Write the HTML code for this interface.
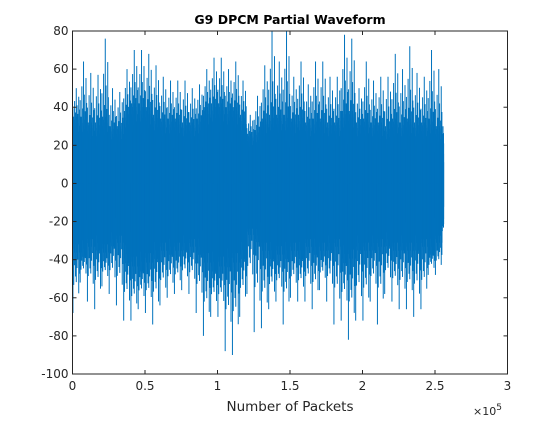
<!DOCTYPE html>
<html><head><meta charset="utf-8"><style>
body{margin:0;background:#fff}
svg text{font-family:"DejaVu Sans","Liberation Sans",sans-serif}
</style></head><body>
<svg id="chart" width="560" height="420" viewBox="0 0 560 420" xmlns="http://www.w3.org/2000/svg">
<rect width="560" height="420" fill="#fff"/>
<text x="290" y="24" text-anchor="middle" font-size="12.5" font-weight="bold" fill="#000">G9 DPCM Partial Waveform</text>
<g id="marks"></g>
<g id="axes"></g>
<text x="290" y="411" text-anchor="middle" font-size="13.5" fill="#262626">Number of Packets</text>
<text x="473" y="415" font-size="11" fill="#262626">×10<tspan dy="-5" font-size="9">5</tspan></text>
</svg>
<script>
const xTicks=[0,0.5,1,1.5,2,2.5,3];
const xTickLabels=["0","0.5","1","1.5","2","2.5","3"];
const yTicks=[80,60,40,20,0,-20,-40,-60,-80,-100];
const yTickLabels=["80","60","40","20","0","-20","-40","-60","-80","-100"];
const binWidth=0.05;
const dataEnd=2.56;
const peakMax=[50,64,58,57,76,50,48,60,70,70,68,62,56,54,54,54,50,52,60,66,66,60,64,54,36,46,62,80,64,80,56,64,52,64,64,56,56,78,76,50,64,54,56,56,68,60,72,58,56,70,60,30];
const peakMin=[-68,-52,-62,-66,-54,-58,-64,-72,-72,-66,-68,-74,-64,-60,-58,-56,-58,-68,-80,-70,-70,-88,-90,-70,-58,-78,-76,-66,-62,-74,-60,-62,-62,-66,-56,-62,-74,-72,-82,-72,-72,-62,-74,-58,-62,-66,-66,-70,-66,-48,-48,-25];
const coreAmp=[35,35,32,32,35,30,30,38,42,42,40,36,34,34,34,32,32,34,40,42,42,40,40,36,26,28,34,36,36,36,34,36,32,34,34,32,32,38,38,32,34,32,32,30,34,32,34,32,32,34,30,18];

const L=72.5,R=507.5,T=31,B=374;
const xs=v=>L+v/3*(R-L);
const ys=v=>T+(80-v)/180*(B-T);
const NS="http://www.w3.org/2000/svg";
const marks=document.getElementById('marks');
const col="#0072BD";
function mk(tag,attrs,parent){const e=document.createElementNS(NS,tag);for(const k in attrs)e.setAttribute(k,attrs[k]);parent.appendChild(e);return e;}
// visual texture pattern (fractions of the gap between core and peak)
const texPos=[0.06,0.17,0.29,0.41,0.52,0.63,0.74,0.86,0.95];
const texHi=[0.3,0.0,0.55,0.15,1.0,0.4,0.1,0.7,0.25];
const texLo=[0.45,0.2,0.05,0.65,0.3,1.0,0.5,0.15,0.35];
for(let i=0;i<peakMax.length;i++){
  const x0=i*binWidth, x1=Math.min((i+1)*binWidth,dataEnd);
  const solid=coreAmp[i]*0.62;
  const r=mk('rect',{x:xs(x0),y:ys(solid),width:xs(x1)-xs(x0)+0.4,height:ys(-solid*1.1)-ys(solid),fill:col},marks);
  
  
  // fuzzy dense zone
  for(let k=0;k<24;k++){
    const xm=x0+(x1-x0)*(k+0.5)/24;
    const f=0.55+0.45*((k*7)%11)/10;
    const g=0.55+0.45*((k*5)%9)/8;
    const d=mk('line',{x1:xs(xm),x2:xs(xm),y1:ys(coreAmp[i]*f),y2:ys(-coreAmp[i]*1.1*g),stroke:col,'stroke-width':0.8},marks);
    
    
  }
  for(let j=0;j<texPos.length;j++){
    const xm=x0+(x1-x0)*texPos[j];
    if(xm>dataEnd)continue;
    const hiV=coreAmp[i]+(peakMax[i]-coreAmp[i])*texHi[j];
    const hi=mk('line',{x1:xs(xm),x2:xs(xm),y1:ys(0),y2:ys(Math.max(hiV,0)),stroke:col,'stroke-width':1},marks);
    
    
    const loV=-coreAmp[i]*1.1+(peakMin[i]+coreAmp[i]*1.1)*texLo[j];
    const xn=x0+(x1-x0)*texPos[(j+4)%texPos.length];
    const lo=mk('line',{x1:xs(xn),x2:xs(xn),y1:ys(0),y2:ys(Math.min(loV,0)),stroke:col,'stroke-width':1},marks);
    
    
  }
}
const axes=document.getElementById('axes');
const box=mk('rect',{x:L,y:T,width:R-L,height:B-T,fill:'none',stroke:'#262626','stroke-width':1},axes);


xTicks.forEach((v,i)=>{
  const x=xs(v);
  mk('line',{x1:x,x2:x,y1:B,y2:B-4,stroke:'#262626'},axes);
  mk('line',{x1:x,x2:x,y1:T,y2:T+4,stroke:'#262626'},axes);
  const t=mk('text',{x:x,y:B+16,'text-anchor':'middle','font-size':12,fill:'#262626'},axes);
  t.textContent=xTickLabels[i];
  
  
});
yTicks.forEach((v,i)=>{
  const y=ys(v);
  mk('line',{x1:L,x2:L+4,y1:y,y2:y,stroke:'#262626'},axes);
  mk('line',{x1:R,x2:R-4,y1:y,y2:y,stroke:'#262626'},axes);
  const t=mk('text',{x:L-4,y:y+4,'text-anchor':'end','font-size':12,fill:'#262626'},axes);
  t.textContent=yTickLabels[i];
  
  
});
</script>
</body></html>
